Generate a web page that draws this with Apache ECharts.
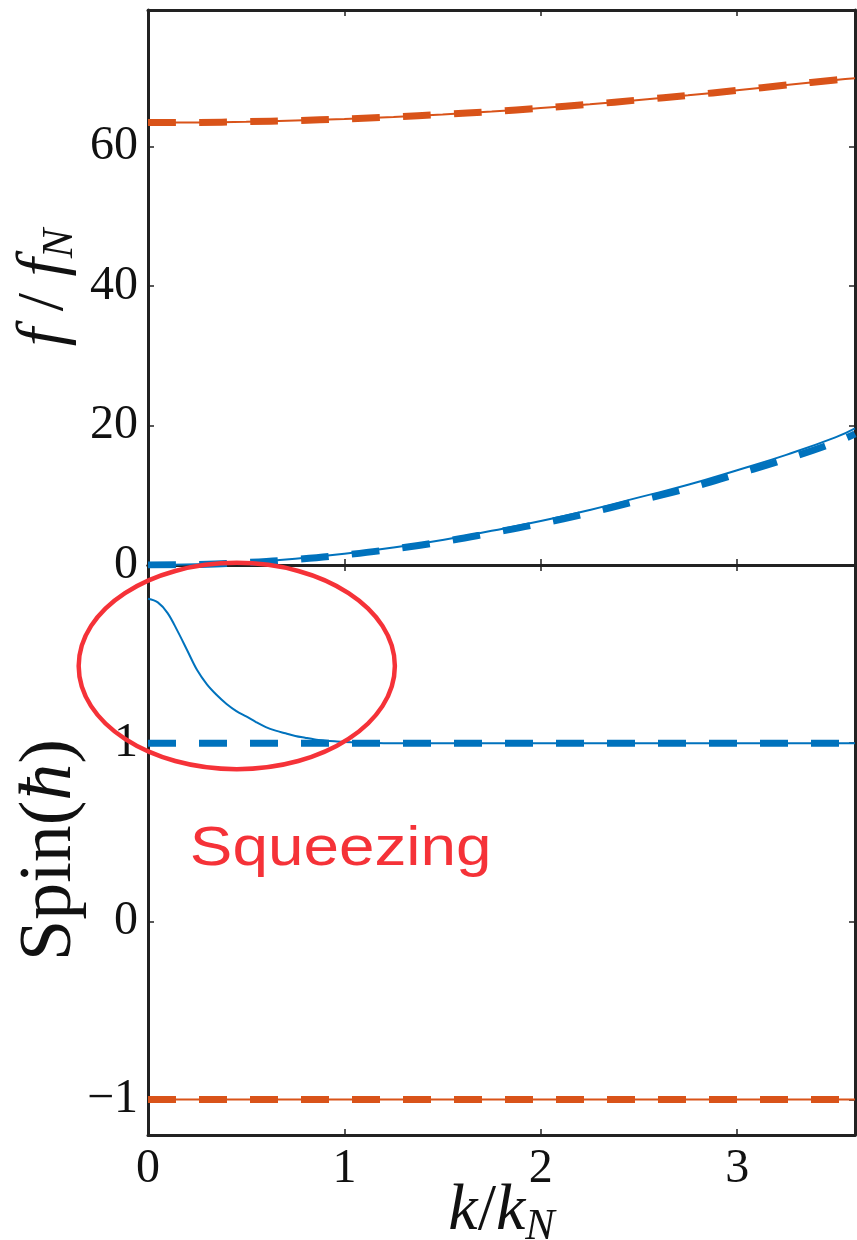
<!DOCTYPE html>
<html>
<head>
<meta charset="utf-8">
<script src="https://cdn.jsdelivr.net/npm/echarts@6/dist/echarts.min.js"></script>
<style>
  html, body { margin: 0; padding: 0; background: #fff; }
  #chart { width: 857px; height: 1240px; }
</style>
</head>
<body>
<div id="chart"></div>
<script>
// Wave-number grid for the dispersion panel (k / k_N)
const kTop = [0, 0.25, 0.5, 0.75, 1.0, 1.25, 1.5, 1.75, 2.0, 2.25, 2.5, 2.75, 3.0, 3.25, 3.5, 3.6];
// Upper branch (orange): full model and approximation
const fUpperFull = [63.45, 63.48, 63.58, 63.74, 63.97, 64.26, 64.62, 65.04, 65.53, 66.08, 66.70, 67.36, 68.08, 68.84, 69.56, 69.80];
const fUpperApprox = [63.45, 63.48, 63.58, 63.74, 63.97, 64.26, 64.62, 65.04, 65.53, 66.08, 66.70, 67.36, 68.08, 68.84, 69.56, 69.80];
// Lower branch (blue): full model and approximation
const fLowerFull = [0, 0.1, 0.4, 0.9, 1.6, 2.5, 3.6, 4.9, 6.3, 7.9, 9.7, 11.5, 13.6, 15.8, 18.3, 19.6];
const fLowerApprox = [0, 0.08, 0.35, 0.8, 1.45, 2.3, 3.35, 4.6, 5.95, 7.5, 9.25, 11.0, 13.05, 15.2, 17.6, 18.8];

// Wave-number grid for the spin panel
const kSpin = [0, 0.05, 0.1, 0.15, 0.2, 0.25, 0.3, 0.35, 0.4, 0.45, 0.5, 0.55, 0.6, 0.65, 0.7, 0.75, 0.8, 0.85, 0.9, 0.95, 1.0, 1.2, 1.6, 2.0, 2.5, 3.0, 3.6];
const spinLowerFull = [1.81, 1.79, 1.73, 1.63, 1.52, 1.41, 1.33, 1.27, 1.22, 1.18, 1.15, 1.118, 1.09, 1.07, 1.055, 1.04, 1.03, 1.021, 1.015, 1.01, 1.006, 1.0, 1.0, 1.0, 1.0, 1.0, 1.0];
const kFlat = [0, 3.6];
const spinLowerApprox = [1, 1];
const spinUpperFull = [-1, -1];
const spinUpperApprox = [-1, -1];

// Tick labels
const xTicks = [0, 1, 2, 3];
const fTicks = [0, 20, 40, 60];
const spinTicks = [-1, 0, 1];

const BLUE = '#0072BD';
const ORANGE = '#D95319';
const FRAME = '#222';
const INK = '#111';
const SERIF = '"Liberation Serif", "DejaVu Serif", serif';

const pairs = (xs, ys) => xs.map((x, i) => [x, ys[i]]);
const fmt = v => (v < 0 ? '\u2212' + Math.abs(v) : String(v));

const frameLine = { show: true, onZero: false, lineStyle: { color: FRAME, width: 3 } };
const tickLabel = { color: INK, fontFamily: SERIF, fontSize: 48 };

function ax(grid, pos, min, max, ticks, labels, extra) {
  const o = {
    type: 'value', gridIndex: grid, position: pos, min: min, max: max,
    axisLine: frameLine,
    axisTick: { show: true, inside: true, length: 6, customValues: ticks, lineStyle: { color: FRAME, width: 1.5 } },
    splitLine: { show: false },
    nameMoveOverlap: false,
    axisLabel: labels
      ? Object.assign({ margin: 10, customValues: ticks, formatter: fmt }, tickLabel)
      : { show: false }
  };
  return Object.assign(o, extra || {});
}

const subRich = {
  i: { fontFamily: SERIF, fontStyle: 'italic', fontSize: 66, color: INK },
  n: { fontFamily: SERIF, fontSize: 66, color: INK },
  s: { fontFamily: SERIF, fontStyle: 'italic', fontSize: 44, color: INK, verticalAlign: 'bottom', padding: [30, 0, 0, 0] }
};
const spinRich = {
  i: { fontFamily: SERIF, fontStyle: 'italic', fontSize: 74, color: INK },
  n: { fontFamily: SERIF, fontSize: 74, color: INK }
};

const chart = echarts.init(document.getElementById('chart'), null, { renderer: 'canvas' });

const thin = c => ({ color: c, width: 2 });
const thick = c => ({ color: c, width: 7, type: [28, 23] });

chart.setOption({
  backgroundColor: '#fff',
  animation: false,
  grid: [
    { left: 148, right: 2, top: 10, height: 555, outerBoundsMode: 'none' },
    { left: 148, right: 2, top: 565, height: 570, outerBoundsMode: 'none' }
  ],
  xAxis: [
    ax(0, 'bottom', 0, 3.6, xTicks, false),
    ax(0, 'top', 0, 3.6, xTicks, false),
    ax(1, 'bottom', 0, 3.6, xTicks, true, {
      name: '{i|k}{n|/}{i|k}{s|N}', nameLocation: 'middle', nameGap: 40,
      nameTextStyle: { rich: subRich }
    }),
    ax(1, 'top', 0, 3.6, xTicks, false)
  ],
  yAxis: [
    ax(0, 'left', 0, 79.6, fTicks, true, {
      name: '{i|f}{n| / }{i|f}{s|N}', nameLocation: 'middle', nameGap: 66,
      nameTextStyle: { rich: subRich }
    }),
    ax(0, 'right', 0, 79.6, fTicks, false),
    ax(1, 'left', -1.2, 2, spinTicks, true, {
      name: '{n|Spin(}{i|\u0127}{n|)}', nameLocation: 'middle', nameGap: 60,
      nameTextStyle: { rich: spinRich }
    }),
    ax(1, 'right', -1.2, 2, spinTicks, false)
  ],
  series: [
    { type: 'line', xAxisIndex: 0, yAxisIndex: 0, data: pairs(kTop, fUpperFull), smooth: true, symbol: 'none', lineStyle: thin(ORANGE) },
    { type: 'line', xAxisIndex: 0, yAxisIndex: 0, data: pairs(kTop, fUpperApprox), smooth: true, symbol: 'none', lineStyle: thick(ORANGE) },
    { type: 'line', xAxisIndex: 0, yAxisIndex: 0, data: pairs(kTop, fLowerFull), smooth: true, symbol: 'none', lineStyle: thin(BLUE) },
    { type: 'line', xAxisIndex: 0, yAxisIndex: 0, data: pairs(kTop, fLowerApprox), smooth: true, symbol: 'none', lineStyle: thick(BLUE) },
    { type: 'line', xAxisIndex: 2, yAxisIndex: 2, data: pairs(kSpin, spinLowerFull), smooth: 0.35, symbol: 'none', lineStyle: thin(BLUE) },
    { type: 'line', xAxisIndex: 2, yAxisIndex: 2, data: pairs(kFlat, spinLowerApprox), symbol: 'none', lineStyle: thick(BLUE) },
    { type: 'line', xAxisIndex: 2, yAxisIndex: 2, data: pairs(kFlat, spinUpperFull), symbol: 'none', lineStyle: thin(ORANGE) },
    { type: 'line', xAxisIndex: 2, yAxisIndex: 2, data: pairs(kFlat, spinUpperApprox), symbol: 'none', lineStyle: thick(ORANGE) }
  ]
});

// Highlight ring around the low-k spin excess, plus its caption
const toPx = (k, s) => chart.convertToPixel({ xAxisIndex: 2, yAxisIndex: 2 }, [k, s]);
const c = toPx(0.452, 1.433);
const edgeX = toPx(0.452 + 0.805, 1.433);
const edgeY = toPx(0.452, 1.433 + 0.579);
const cap = toPx(0.213, 0.40);

chart.setOption({
  graphic: [
    {
      type: 'ellipse', z: 100,
      shape: { cx: c[0], cy: c[1], rx: edgeX[0] - c[0], ry: c[1] - edgeY[1] },
      style: { fill: 'none', stroke: '#F53238', lineWidth: 4.5 }
    },
    {
      type: 'text', z: 100, x: cap[0], y: cap[1],
      style: {
        text: 'Squeezing', fill: '#F53238',
        font: '56px "Liberation Sans", Arial, sans-serif',
        textAlign: 'left', textVerticalAlign: 'middle'
      },
      scaleX: 1.14
    }
  ]
});
</script>
</body>
</html>
